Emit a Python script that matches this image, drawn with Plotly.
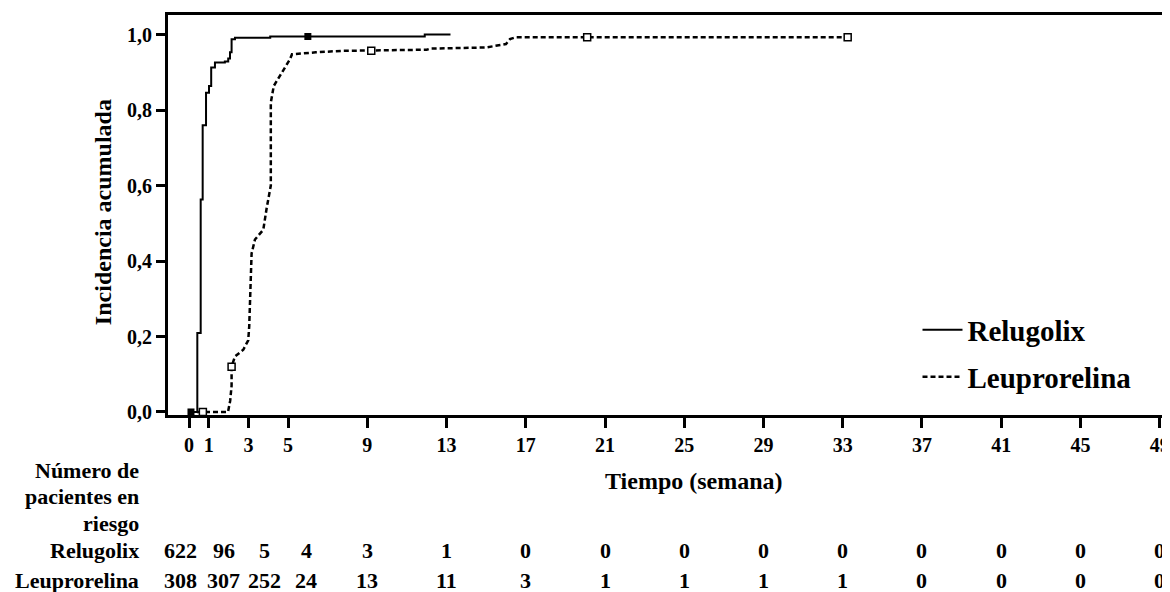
import plotly.graph_objects as go

# ---------------- data ----------------
rel_name = "Relugolix"
leu_name = "Leuprorelina"

rel_t = [0, 0.42, 0.59, 0.69, 0.86, 1.01, 1.12, 1.31, 1.81, 1.98, 2.07, 2.15, 2.32, 4.1, 11.9, 13.2]
rel_y = [0, 0.209, 0.563, 0.76, 0.846, 0.864, 0.913, 0.926, 0.929, 0.937, 0.953, 0.988, 0.992, 0.995, 1.0, 1.0]

leu_t = [0, 1.97, 2.08, 2.15, 2.15, 2.32, 2.74, 2.99, 3.04, 3.16, 3.33, 3.75, 3.92, 4.08, 4.13, 4.13,
         4.28, 5.1, 5.2, 6.4, 7.7, 12.0, 12.2, 15.0, 15.5, 16.0, 16.2, 16.5, 33.25]
leu_y = [0, 0, 0.03, 0.07, 0.12, 0.147, 0.165, 0.19, 0.227, 0.42, 0.457, 0.483, 0.54, 0.59, 0.6, 0.82,
         0.864, 0.935, 0.948, 0.953, 0.957, 0.96, 0.963, 0.966, 0.97, 0.975, 0.988, 0.993, 0.993]

rel_cens_t = [0.1, 6.0]
rel_cens_y = [0.0, 0.995]
leu_cens_t = [0.7, 2.15, 9.2, 20.1, 33.25]
leu_cens_y = [0.0, 0.12, 0.957, 0.993, 0.993]

tick_vals = [0, 1, 3, 5, 9, 13, 17, 21, 25, 29, 33, 37, 41, 45, 49]
y_ticks = [0, 0.2, 0.4, 0.6, 0.8, 1.0]

risk_rel = [622, 96, 5, 4, 3, 1, 0, 0, 0, 0, 0, 0, 0, 0, 0]
risk_leu = [308, 307, 252, 24, 13, 11, 3, 1, 1, 1, 1, 0, 0, 0, 0]

x_title = "Tiempo (semana)"
y_title = "Incidencia acumulada"
risk_header = ["Número de", "pacientes en", "riesgo"]

# ---------------- layout parameters ----------------
OFF = 8  # page body margin in the browser
W, H = 1170 - OFF, 592 - OFF
L, R, T, B = 168 - OFF, 0, 15 - OFF, 592 - 415
plot_w = W - L - R
plot_h = H - T - B
FONT = "Liberation Serif"
risk_shift = [-9, 15, 16, 18] + [0] * 11  # pixel offsets of the first columns


def px_x(px):
    return (px - OFF - L) / plot_w


def px_y(py):
    return (H - B - (py - OFF)) / plot_h


fig = go.Figure()

fig.add_trace(go.Scatter(
    x=rel_t, y=rel_y, mode="lines", name=rel_name, line_shape="hv",
    line=dict(color="black", width=2), legend="legend"))
fig.add_trace(go.Scatter(
    x=leu_t, y=leu_y, mode="lines", name=leu_name,
    line=dict(color="black", width=2.5, dash="5px,3px"), legend="legend2"))
fig.add_trace(go.Scatter(
    x=rel_cens_t, y=rel_cens_y, mode="markers", showlegend=False,
    marker=dict(symbol="square", size=7, color="black")))
fig.add_trace(go.Scatter(
    x=leu_cens_t, y=leu_cens_y, mode="markers", showlegend=False,
    marker=dict(symbol="square", size=7, color="white", line=dict(color="black", width=1.5))))

bold = dict(family=FONT, color="black", weight="bold")

annotations = []
annotations.append(dict(text=x_title, xref="paper", yref="paper", x=px_x(695), y=px_y(481),
                        showarrow=False, xanchor="center", yanchor="middle",
                        font=dict(size=24, **bold)))
annotations.append(dict(text=y_title, xref="paper", yref="paper", x=px_x(103), y=px_y(212),
                        showarrow=False, xanchor="center", yanchor="middle", textangle=-90,
                        font=dict(size=24, **bold)))
for i, line in enumerate(risk_header):
    annotations.append(dict(text=line, xref="paper", yref="paper", x=px_x(141), y=px_y(470 + 26.5 * i),
                            showarrow=False, xanchor="right", yanchor="middle",
                            font=dict(size=22, **bold)))
for lab, py in [(rel_name, 550), (leu_name, 580)]:
    annotations.append(dict(text=lab, xref="paper", yref="paper", x=px_x(141), y=px_y(py),
                            showarrow=False, xanchor="right", yanchor="middle",
                            font=dict(size=22, **bold)))
for vals, py in [(risk_rel, 550), (risk_leu, 580)]:
    for tv, v, sh in zip(tick_vals, vals, risk_shift):
        annotations.append(dict(text=str(v), xref="x", yref="paper", x=tv, y=px_y(py), xshift=sh,
                                showarrow=False, xanchor="center", yanchor="middle",
                                font=dict(size=22, **bold)))

legend_common = dict(font=dict(size=29, **bold), bgcolor="rgba(0,0,0,0)", borderwidth=0,
                     xanchor="left", yanchor="middle", itemwidth=40)

fig.update_layout(
    width=W, height=H,
    margin=dict(l=L, r=R, t=T, b=B, pad=0),
    paper_bgcolor="white", plot_bgcolor="white",
    separators=",.",
    showlegend=True,
    legend=dict(x=px_x(919), y=px_y(330), **legend_common),
    legend2=dict(x=px_x(919), y=px_y(377), **legend_common),
    annotations=annotations,
    xaxis=dict(
        range=[-1.06, 49.42], tickmode="array", tickvals=tick_vals,
        showgrid=False, zeroline=False, showline=True, linecolor="black", linewidth=3,
        mirror=True, ticks="outside", ticklen=10, tickwidth=3, tickcolor="black",
        ticklabeloverflow="allow",
        tickfont=dict(size=20, **bold)),
    yaxis=dict(
        range=[-0.008, 1.052], tickmode="array", tickvals=y_ticks, tickformat=".1f",
        showgrid=False, zeroline=False, showline=True, linecolor="black", linewidth=3,
        ticks="outside", ticklen=9, tickwidth=3, tickcolor="black",
        tickfont=dict(size=20, **bold)),
)

fig.write_html("out.html")
